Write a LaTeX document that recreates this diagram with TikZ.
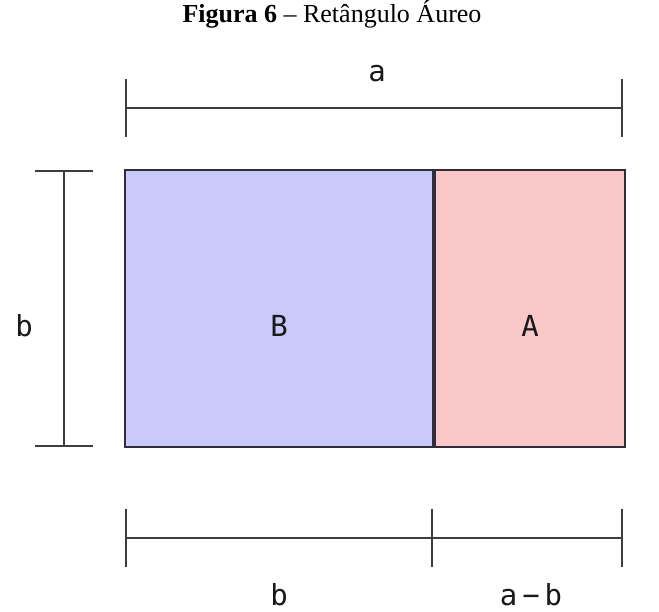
\documentclass[tikz,border=0pt]{standalone}
\usepackage{fontspec}
\setmainfont{Liberation Serif}
\newfontfamily\monofont{DejaVu Sans Mono}
\usepackage{tikz}
\usetikzlibrary{positioning}
\usetikzlibrary{arrows.meta}
\definecolor{bluefill}{RGB}{202,202,250}
\definecolor{redfill}{RGB}{250,200,200}
\definecolor{edgecol}{RGB}{48,46,58}
\definecolor{dimcol}{RGB}{60,62,60}
\tikzstyle{part} = [rectangle, draw=edgecol, line width=2.2pt, inner sep=0pt]
\tikzstyle{dim} = [draw=dimcol, line width=2.2pt, {Bar[width=58pt,line width=2.2pt]}-{Bar[width=58pt,line width=2.2pt]}]
\tikzstyle{dimr} = [draw=dimcol, line width=2.2pt, -{Bar[width=58pt,line width=2.2pt]}]
\tikzstyle{lbl} = [text=black!90, inner sep=0pt, font=\monofont\fontsize{29}{29}\selectfont]

\begin{document}
\begin{tikzpicture}[x=1pt, y=-1pt]
			\useasboundingbox (0,0) rectangle (659,612);
			\node [font=\fontsize{26}{26}\selectfont] (title) at (332,14) {\textbf{Figura 6} -- Retângulo Áureo};
			\node [part, fill=bluefill, minimum width=308pt, minimum height=277pt] (B) at (279,308.5) {};
			\node [part, fill=redfill, minimum width=190pt, minimum height=277pt, right=0pt of B] (A) {};
			\node [lbl, below=17pt of B.center, anchor=center] (nameB) {B};
			\node [lbl, below=17pt of A.center, anchor=center] (nameA) {A};
			% dimension lines
			\coordinate (topL) at (125,108);
			\coordinate (topR) at (623,108);
			\coordinate (leftT) at (64,170);
			\coordinate (leftB) at (64,447);
			\coordinate (botL) at (125,538);
			\coordinate (botM) at (433,538);
			\coordinate (botR) at (623,538);
			\path [dim] (topL) -- (topR);
			\path [dim] (leftT) -- (leftB);
			\path [dim] (botL) -- (botM);
			\path [dimr] (botM) -- (botR);
			\node [lbl] (la) at (377,74) {a};
			\node [lbl] (lb) at (24,326) {b};
			\node [lbl] (lbb) at (279,595) {b};
			\node [lbl] (lab) at (531,595) {a\,−\,b};
			
			\end{tikzpicture}
\end{document}
